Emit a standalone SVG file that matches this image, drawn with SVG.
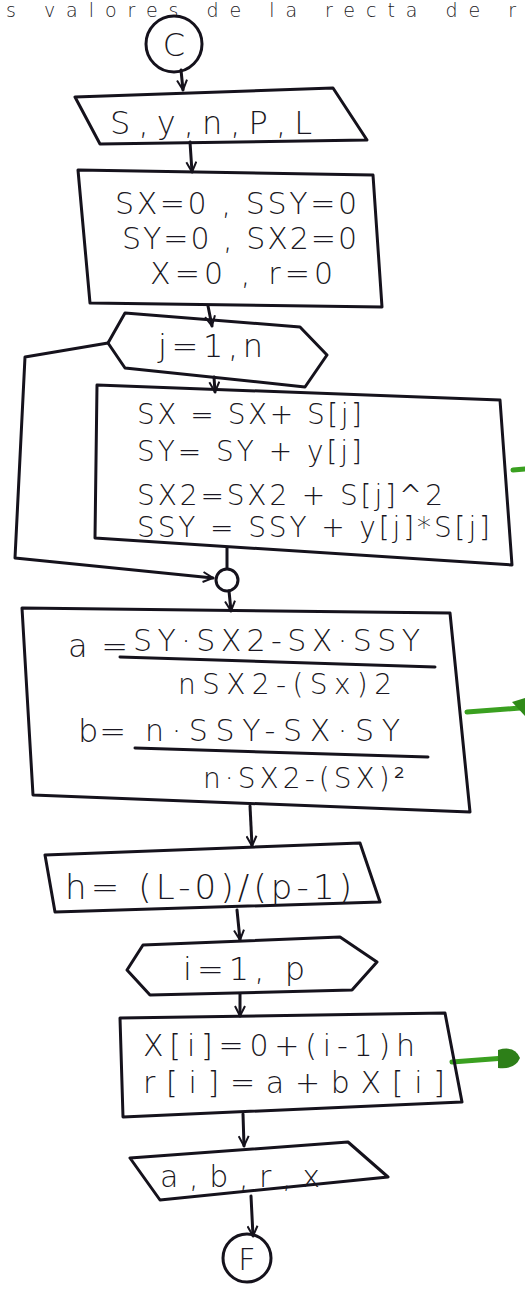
<svg xmlns="http://www.w3.org/2000/svg" width="525" height="1292" viewBox="0 0 525 1292">
<defs>
<style>
.s{fill:none;stroke:#15121c;stroke-width:3;stroke-linejoin:round;stroke-linecap:round}
.t{font-family:"DejaVu Sans","Liberation Sans",sans-serif;fill:#1a1722;font-weight:300}
.g{fill:none;stroke:#3aa020;stroke-width:5;stroke-linecap:round}
</style>
<marker id="ah" viewBox="0 0 12 12" refX="11" refY="6" markerWidth="12" markerHeight="12" markerUnits="userSpaceOnUse" orient="auto">
<path d="M1,1 L11,6 L1,11" fill="none" stroke="#15121c" stroke-width="2"/>
</marker>
</defs>
<rect width="525" height="1292" fill="#ffffff"/>
<text class="t" x="6" y="17" font-size="19" textLength="510" fill="#3a3540">s valores de la recta de r</text>

<g id="connectors">
<path class="s" d="M181,70 L183,90" marker-end="url(#ah)"/>
<path class="s" d="M190,142 L192,172" marker-end="url(#ah)"/>
<path class="s" d="M208,306 L212,326" marker-end="url(#ah)"/>
<path class="s" d="M214,377 L215,392" marker-end="url(#ah)"/>
<path class="s" d="M108,343 L25,357 L15,558 L213,578" marker-end="url(#ah)"/>
<path class="s" d="M227,548 L227,568"/>
<path class="s" d="M229,591 L231,611" marker-end="url(#ah)"/>
<path class="s" d="M250,806 L252,846" marker-end="url(#ah)"/>
<path class="s" d="M237,910 L240,940" marker-end="url(#ah)"/>
<path class="s" d="M240,994 L240,1016" marker-end="url(#ah)"/>
<path class="s" d="M243,1114 L244,1146" marker-end="url(#ah)"/>
<path class="s" d="M251,1196 L253,1236" marker-end="url(#ah)"/>
<path class="g" d="M513,470 L525,469"/>
<path class="g" d="M467,712 L520,708"/>
<path d="M512,702 L525,698 L525,716 Z" fill="#2f8a18"/>
<path class="g" d="M452,1062 L505,1058"/>
<path d="M498,1050 Q515,1045 520,1058 Q515,1070 498,1068 Z" fill="#2d7f18"/>
</g>

<g id="start">
<ellipse class="s" cx="174" cy="44" rx="28" ry="28"/>
<text class="t" x="174" y="56" font-size="32" text-anchor="middle">C</text>
</g>

<g id="input">
<path class="s" d="M75,97 L333,88 L367,140 L100,144 Z"/>
<text class="t" x="110" y="134" font-size="32" textLength="202">S,y,n,P,L</text>
</g>

<g id="init">
<path class="s" d="M78,170 L373,175 L382,307 L90,303 Z"/>
<text class="t" x="115" y="214" font-size="30" textLength="242">SX=0 , SSY=0</text>
<text class="t" x="122" y="249" font-size="30" textLength="235">SY=0 , SX2=0</text>
<text class="t" x="150" y="284" font-size="30" textLength="183">X=0 , r=0</text>
</g>

<g id="loop-j">
<path class="s" d="M108,343 L125,313 L300,327 L327,355 L305,387 L125,368 Z"/>
<text class="t" x="158" y="357" font-size="32" textLength="105">j=1,n</text>
</g>

<g id="loop-body">
<path class="s" d="M97,385 L500,400 L512,565 L95,538 Z"/>
<text class="t" x="137" y="424" font-size="28" textLength="225">SX = SX+ S[j]</text>
<text class="t" x="137" y="461" font-size="28" textLength="225">SY= SY + y[j]</text>
<text class="t" x="137" y="505" font-size="28" textLength="306">SX2=SX2 + S[j]^2</text>
<text class="t" x="137" y="537" font-size="28" textLength="353">SSY = SSY + y[j]*S[j]</text>
</g>

<g id="join">
<circle class="s" cx="227" cy="580" r="11"/>
</g>

<g id="coefficients">
<path class="s" d="M22,608 L450,613 L470,812 L33,795 Z"/>
<text class="t" x="68" y="657" font-size="32" textLength="60">a=</text>
<text class="t" x="133" y="651" font-size="30" textLength="287">SY·SX2-SX·SSY</text>
<path class="s" d="M120,657 L435,667" stroke-width="2.5"/>
<text class="t" x="178" y="694" font-size="28" textLength="214">nSX2-(Sx)2</text>
<text class="t" x="78" y="742" font-size="32" textLength="48">b=</text>
<text class="t" x="145" y="741" font-size="30" textLength="255">n·SSY-SX·SY</text>
<path class="s" d="M135,748 L428,757" stroke-width="2.5"/>
<text class="t" x="203" y="788" font-size="28" textLength="202">n·SX2-(SX)²</text>
</g>

<g id="step-h">
<path class="s" d="M45,855 L360,843 L380,902 L55,912 Z"/>
<text class="t" x="65" y="899" font-size="34" textLength="287">h= (L-0)/(p-1)</text>
</g>

<g id="loop-i">
<path class="s" d="M127,970 L143,945 L340,937 L377,962 L352,990 L150,995 Z"/>
<text class="t" x="183" y="980" font-size="32" textLength="122">i=1, p</text>
</g>

<g id="loop-i-body">
<path class="s" d="M120,1018 L445,1013 L462,1102 L123,1117 Z"/>
<text class="t" x="143" y="1056" font-size="30" textLength="272">X[i]=0+(i-1)h</text>
<text class="t" x="143" y="1093" font-size="30" textLength="302">r[i]=a+bX[i]</text>
</g>

<g id="output">
<path class="s" d="M130,1158 L348,1142 L388,1177 L160,1200 Z"/>
<text class="t" x="160" y="1187" font-size="30" textLength="160">a,b,r,x</text>
</g>

<g id="end">
<circle class="s" cx="247" cy="1258" r="24"/>
<text class="t" x="247" y="1270" font-size="30" text-anchor="middle">F</text>
</g>
</svg>
